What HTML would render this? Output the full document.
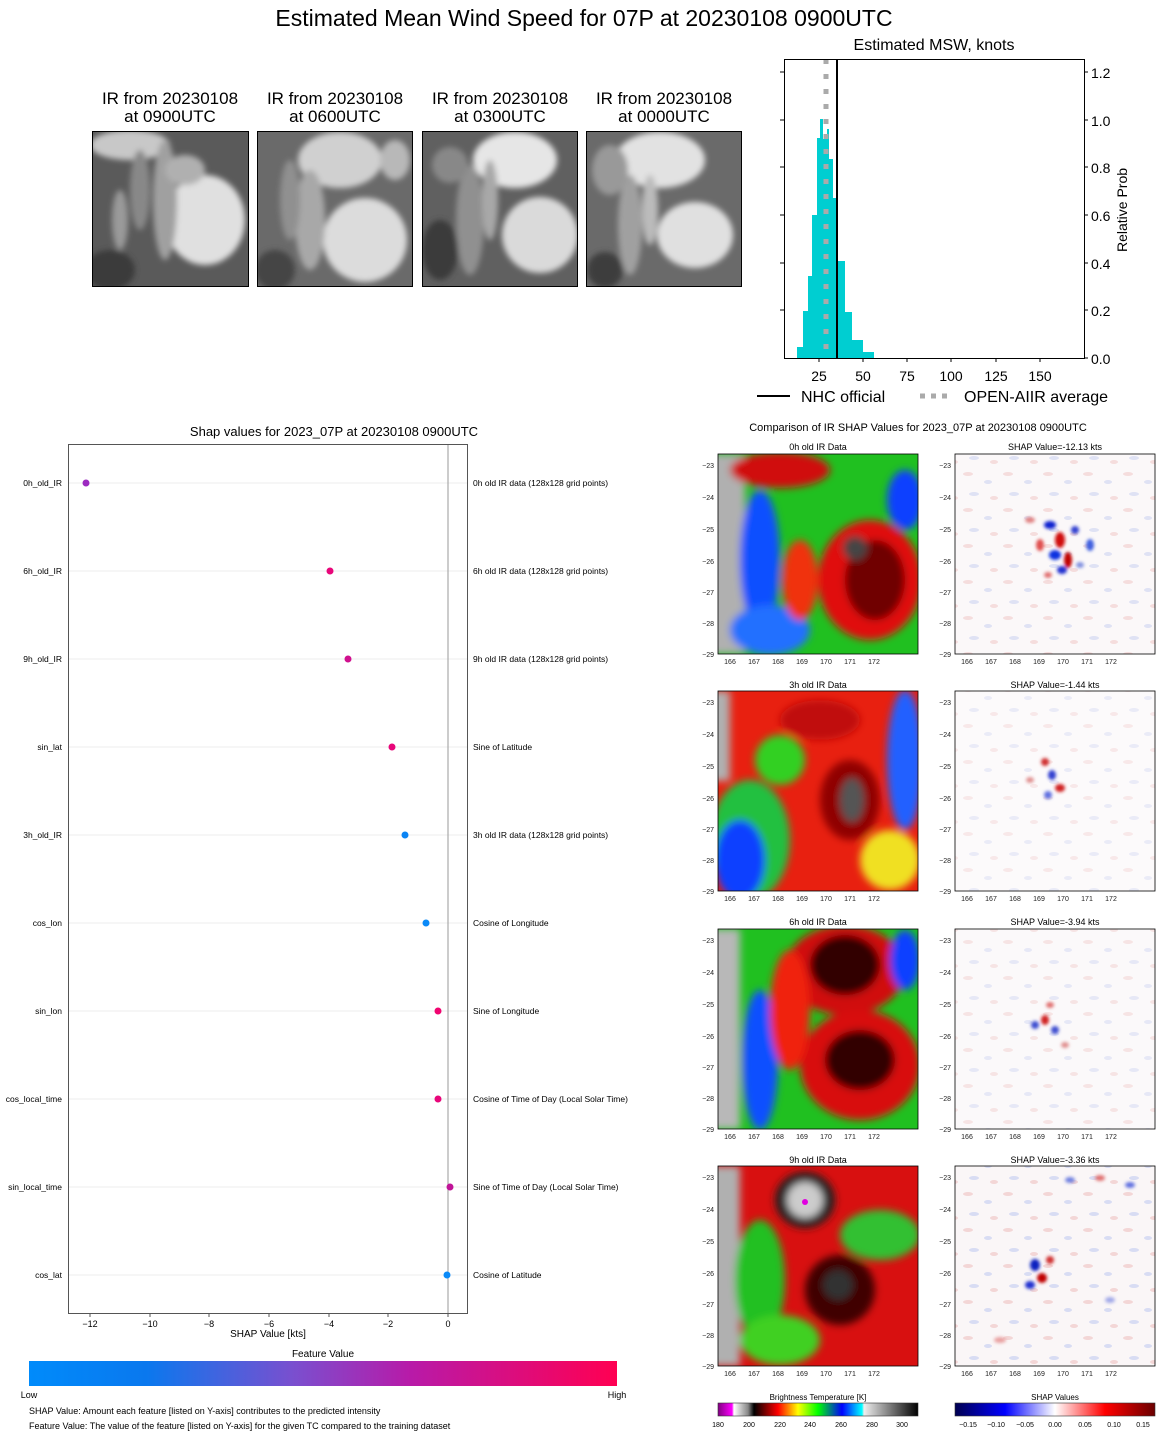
<!DOCTYPE html>
<html><head><meta charset="utf-8"><style>
body{margin:0;background:#fff}
svg{display:block;font-family:"Liberation Sans","DejaVu Sans",sans-serif}
</style></head><body>
<svg width="1168" height="1436" viewBox="0 0 1168 1436" xmlns="http://www.w3.org/2000/svg">
<defs>
<filter id="b8" x="-20%" y="-20%" width="140%" height="140%"><feGaussianBlur stdDeviation="8"/></filter>
<filter id="b4" x="-20%" y="-20%" width="140%" height="140%"><feGaussianBlur stdDeviation="4"/></filter>
<filter id="b3" x="-20%" y="-20%" width="140%" height="140%"><feGaussianBlur stdDeviation="3"/></filter>
<filter id="b2"><feGaussianBlur stdDeviation="1.5"/></filter>
<linearGradient id="fv" x1="0" x2="1"><stop offset="0" stop-color="#008bfb"/><stop offset="0.2" stop-color="#0a78ee"/><stop offset="0.45" stop-color="#7a4fcf"/><stop offset="0.65" stop-color="#b81aa8"/><stop offset="1" stop-color="#ff0052"/></linearGradient>
<linearGradient id="bt" x1="0" x2="1"><stop offset="0" stop-color="#800080"/><stop offset="0.07" stop-color="#ff00ff"/><stop offset="0.08" stop-color="#fff"/><stop offset="0.15" stop-color="#888"/><stop offset="0.18" stop-color="#000"/><stop offset="0.3" stop-color="#f00"/><stop offset="0.4" stop-color="#ff0"/><stop offset="0.5" stop-color="#0f0"/><stop offset="0.62" stop-color="#00f"/><stop offset="0.72" stop-color="#0ff"/><stop offset="0.73" stop-color="#eee"/><stop offset="1" stop-color="#000"/></linearGradient>
<linearGradient id="sv" x1="0" x2="1"><stop offset="0" stop-color="#000050"/><stop offset="0.25" stop-color="#0000ff"/><stop offset="0.5" stop-color="#fff"/><stop offset="0.75" stop-color="#ff0000"/><stop offset="1" stop-color="#6a0000"/></linearGradient>
<clipPath id="c1"><rect x="718" y="454" width="200" height="200"/></clipPath>
<clipPath id="c2"><rect x="718" y="691" width="200" height="200"/></clipPath>
<clipPath id="c3"><rect x="718" y="929" width="200" height="200"/></clipPath>
<clipPath id="c4"><rect x="718" y="1166" width="200" height="200"/></clipPath>
<clipPath id="g1"><rect x="92" y="131" width="157" height="156"/></clipPath>
<clipPath id="g2"><rect x="257" y="131" width="156" height="156"/></clipPath>
<clipPath id="g3"><rect x="422" y="131" width="156" height="156"/></clipPath>
<clipPath id="g4"><rect x="586" y="131" width="156" height="156"/></clipPath>
<pattern id="spk" width="40" height="36" patternUnits="userSpaceOnUse">
<ellipse cx="8" cy="6" rx="5" ry="2" fill="#f3d6d6"/><ellipse cx="28" cy="14" rx="4" ry="2" fill="#d8dcf3"/><ellipse cx="14" cy="26" rx="5" ry="2" fill="#d8dcf3"/><ellipse cx="34" cy="30" rx="4" ry="2" fill="#f3d6d6"/>
</pattern>
</defs>

<text x="584" y="26" font-size="23" text-anchor="middle">Estimated Mean Wind Speed for 07P at 20230108 0900UTC</text>

<g font-size="17" text-anchor="middle">
<text x="170" y="104">IR from 20230108</text><text x="170" y="122">at 0900UTC</text>
<text x="335" y="104">IR from 20230108</text><text x="335" y="122">at 0600UTC</text>
<text x="500" y="104">IR from 20230108</text><text x="500" y="122">at 0300UTC</text>
<text x="664" y="104">IR from 20230108</text><text x="664" y="122">at 0000UTC</text>
</g>
<g clip-path="url(#g1)"><rect x="92" y="131" width="157" height="156" fill="#5a5a5a"/>
<g filter="url(#b3)"><ellipse cx="205" cy="220" rx="40" ry="45" fill="#e0e0e0"/><ellipse cx="130" cy="145" rx="40" ry="15" fill="#c8c8c8"/><ellipse cx="165" cy="200" rx="12" ry="60" fill="#a0a0a0"/><ellipse cx="140" cy="190" rx="10" ry="40" fill="#888"/><ellipse cx="110" cy="270" rx="25" ry="20" fill="#3a3a3a"/><ellipse cx="185" cy="170" rx="20" ry="15" fill="#b0b0b0"/><ellipse cx="120" cy="220" rx="8" ry="30" fill="#9a9a9a"/></g></g>
<g clip-path="url(#g2)"><rect x="257" y="131" width="156" height="156" fill="#6a6a6a"/>
<g filter="url(#b3)"><ellipse cx="365" cy="240" rx="42" ry="42" fill="#dcdcdc"/><ellipse cx="340" cy="160" rx="42" ry="28" fill="#d0d0d0"/><ellipse cx="310" cy="220" rx="15" ry="50" fill="#a8a8a8"/><ellipse cx="290" cy="200" rx="10" ry="40" fill="#909090"/><ellipse cx="275" cy="270" rx="20" ry="20" fill="#444"/><ellipse cx="395" cy="160" rx="15" ry="20" fill="#b8b8b8"/></g></g>
<g clip-path="url(#g3)"><rect x="422" y="131" width="156" height="156" fill="#606060"/>
<g filter="url(#b3)"><ellipse cx="515" cy="160" rx="42" ry="28" fill="#e6e6e6"/><ellipse cx="540" cy="235" rx="38" ry="38" fill="#dadada"/><ellipse cx="470" cy="220" rx="14" ry="55" fill="#909090"/><ellipse cx="490" cy="200" rx="8" ry="40" fill="#a8a8a8"/><ellipse cx="440" cy="250" rx="18" ry="30" fill="#3a3a3a"/><ellipse cx="450" cy="165" rx="18" ry="18" fill="#888"/></g></g>
<g clip-path="url(#g4)"><rect x="586" y="131" width="156" height="156" fill="#6a6a6a"/>
<g filter="url(#b3)"><ellipse cx="660" cy="160" rx="45" ry="28" fill="#e2e2e2"/><ellipse cx="695" cy="235" rx="38" ry="33" fill="#e0e0e0"/><ellipse cx="630" cy="225" rx="12" ry="50" fill="#a0a0a0"/><ellipse cx="650" cy="210" rx="8" ry="35" fill="#bbb"/><ellipse cx="605" cy="270" rx="18" ry="18" fill="#3c3c3c"/><ellipse cx="610" cy="170" rx="18" ry="25" fill="#999"/></g></g>
<g fill="none" stroke="#000" stroke-width="1">
<rect x="92.5" y="131.5" width="156" height="155"/><rect x="257.5" y="131.5" width="155" height="155"/><rect x="422.5" y="131.5" width="155" height="155"/><rect x="586.5" y="131.5" width="155" height="155"/></g>

<!-- Histogram -->
<text x="934" y="50" font-size="16" text-anchor="middle">Estimated MSW, knots</text>
<g fill="#00ced1">
<rect x="797" y="347" width="6" height="11"/><rect x="803" y="311" width="5" height="47"/><rect x="808" y="276" width="4" height="82"/><rect x="812" y="215" width="5" height="143"/><rect x="817" y="138" width="3" height="220"/><rect x="820" y="119" width="3" height="239"/><rect x="823" y="139" width="4" height="219"/><rect x="827" y="129" width="2" height="229"/><rect x="829" y="159" width="4" height="199"/><rect x="833" y="198" width="3" height="160"/><rect x="836" y="261" width="9" height="97"/><rect x="845" y="312" width="7" height="46"/><rect x="852" y="340" width="11" height="18"/><rect x="863" y="352" width="11" height="6"/>
</g>
<line x1="826" y1="59" x2="826" y2="358" stroke="#aaa" stroke-width="5" stroke-dasharray="5,10"/>
<line x1="837" y1="59" x2="837" y2="358" stroke="#000" stroke-width="2"/>
<rect x="784.5" y="59.5" width="300" height="299" fill="none" stroke="#000"/>
<g stroke="#000"><line x1="819" y1="358" x2="819" y2="362"/><line x1="863" y1="358" x2="863" y2="362"/><line x1="907" y1="358" x2="907" y2="362"/><line x1="951" y1="358" x2="951" y2="362"/><line x1="996" y1="358" x2="996" y2="362"/><line x1="1040" y1="358" x2="1040" y2="362"/>
<line x1="1084" y1="358" x2="1088" y2="358"/><line x1="1084" y1="310" x2="1088" y2="310"/><line x1="1084" y1="263" x2="1088" y2="263"/><line x1="1084" y1="215" x2="1088" y2="215"/><line x1="1084" y1="167" x2="1088" y2="167"/><line x1="1084" y1="120" x2="1088" y2="120"/><line x1="1084" y1="72" x2="1088" y2="72"/>
<line x1="780" y1="72" x2="784" y2="72"/><line x1="780" y1="120" x2="784" y2="120"/><line x1="780" y1="167" x2="784" y2="167"/><line x1="780" y1="215" x2="784" y2="215"/><line x1="780" y1="263" x2="784" y2="263"/><line x1="780" y1="310" x2="784" y2="310"/></g>
<g font-size="14" text-anchor="middle"><text x="819" y="381">25</text><text x="863" y="381">50</text><text x="907" y="381">75</text><text x="951" y="381">100</text><text x="996" y="381">125</text><text x="1040" y="381">150</text></g>
<g font-size="14"><text x="1091" y="364">0.0</text><text x="1091" y="316">0.2</text><text x="1091" y="269">0.4</text><text x="1091" y="221">0.6</text><text x="1091" y="173">0.8</text><text x="1091" y="126">1.0</text><text x="1091" y="78">1.2</text></g>
<text transform="translate(1127,210) rotate(-90)" font-size="14" text-anchor="middle">Relative Prob</text>
<line x1="757" y1="396" x2="790" y2="396" stroke="#000" stroke-width="2"/>
<text x="801" y="402" font-size="16">NHC official</text>
<line x1="920" y1="396" x2="953" y2="396" stroke="#aaa" stroke-width="5" stroke-dasharray="5,6"/>
<text x="964" y="402" font-size="16">OPEN-AIIR average</text>

<!-- SHAP dot plot -->
<text x="334" y="436" font-size="13" text-anchor="middle">Shap values for 2023_07P at 20230108 0900UTC</text>
<g stroke="#eee" stroke-width="1">
<line x1="68" y1="483" x2="467" y2="483"/><line x1="68" y1="571" x2="467" y2="571"/><line x1="68" y1="659" x2="467" y2="659"/><line x1="68" y1="747" x2="467" y2="747"/><line x1="68" y1="835" x2="467" y2="835"/><line x1="68" y1="923" x2="467" y2="923"/><line x1="68" y1="1011" x2="467" y2="1011"/><line x1="68" y1="1099" x2="467" y2="1099"/><line x1="68" y1="1187" x2="467" y2="1187"/><line x1="68" y1="1275" x2="467" y2="1275"/></g>
<line x1="448" y1="444" x2="448" y2="1313" stroke="#999"/>
<rect x="68.5" y="444.5" width="399" height="869" fill="none" stroke="#555"/>
<g fill="#000" font-size="8.5">
<g text-anchor="end"><text x="62" y="486">0h_old_IR</text><text x="62" y="574">6h_old_IR</text><text x="62" y="662">9h_old_IR</text><text x="62" y="750">sin_lat</text><text x="62" y="838">3h_old_IR</text><text x="62" y="926">cos_lon</text><text x="62" y="1014">sin_lon</text><text x="62" y="1102">cos_local_time</text><text x="62" y="1190">sin_local_time</text><text x="62" y="1278">cos_lat</text></g>
<text x="473" y="486">0h old IR data (128x128 grid points)</text><text x="473" y="574">6h old IR data (128x128 grid points)</text><text x="473" y="662">9h old IR data (128x128 grid points)</text><text x="473" y="750">Sine of Latitude</text><text x="473" y="838">3h old IR data (128x128 grid points)</text><text x="473" y="926">Cosine of Longitude</text><text x="473" y="1014">Sine of Longitude</text><text x="473" y="1102">Cosine of Time of Day (Local Solar Time)</text><text x="473" y="1190">Sine of Time of Day (Local Solar Time)</text><text x="473" y="1278">Cosine of Latitude</text>
</g>
<g stroke="#555"><line x1="90" y1="1313" x2="90" y2="1317"/><line x1="150" y1="1313" x2="150" y2="1317"/><line x1="209" y1="1313" x2="209" y2="1317"/><line x1="269" y1="1313" x2="269" y2="1317"/><line x1="329" y1="1313" x2="329" y2="1317"/><line x1="388" y1="1313" x2="388" y2="1317"/><line x1="448" y1="1313" x2="448" y2="1317"/></g>
<g font-size="9" text-anchor="middle"><text x="90" y="1327">−12</text><text x="150" y="1327">−10</text><text x="209" y="1327">−8</text><text x="269" y="1327">−6</text><text x="329" y="1327">−4</text><text x="388" y="1327">−2</text><text x="448" y="1327">0</text>
<text x="268" y="1337" font-size="10">SHAP Value [kts]</text></g>
<circle cx="86" cy="483" r="3.5" fill="#9c2ac0"/>
<circle cx="330" cy="571" r="3.5" fill="#e8067a"/>
<circle cx="348" cy="659" r="3.5" fill="#d0108e"/>
<circle cx="392" cy="747" r="3.5" fill="#e8067a"/>
<circle cx="405" cy="835" r="3.5" fill="#0a84f4"/>
<circle cx="426" cy="923" r="3.5" fill="#0a8af8"/>
<circle cx="438" cy="1011" r="3.5" fill="#f00470"/>
<circle cx="438" cy="1099" r="3.5" fill="#e8067a"/>
<circle cx="450" cy="1187" r="3.5" fill="#c01498"/>
<circle cx="447" cy="1275" r="3.5" fill="#0a8af8"/>
<text x="323" y="1357" font-size="10" text-anchor="middle">Feature Value</text>
<rect x="29" y="1361" width="588" height="25" fill="url(#fv)"/>
<text x="29" y="1398" font-size="9" text-anchor="middle">Low</text><text x="617" y="1398" font-size="9" text-anchor="middle">High</text>
<text x="29" y="1414" font-size="9">SHAP Value: Amount each feature [listed on Y-axis] contributes to the predicted intensity</text>
<text x="29" y="1429" font-size="9">Feature Value: The value of the feature [listed on Y-axis] for the given TC compared to the training dataset</text>

<!-- Comparison panels -->
<text x="918" y="431" font-size="11" text-anchor="middle">Comparison of IR SHAP Values for 2023_07P at 20230108 0900UTC</text>
<g font-size="9" text-anchor="middle">
<text x="818" y="450">0h old IR Data</text><text x="1055" y="450">SHAP Value=-12.13 kts</text>
<text x="818" y="688">3h old IR Data</text><text x="1055" y="688">SHAP Value=-1.44 kts</text>
<text x="818" y="925">6h old IR Data</text><text x="1055" y="925">SHAP Value=-3.94 kts</text>
<text x="818" y="1163">9h old IR Data</text><text x="1055" y="1163">SHAP Value=-3.36 kts</text></g>

<g clip-path="url(#c1)"><rect x="718" y="454" width="200" height="200" fill="#20c020"/>
<g filter="url(#b4)">
<rect x="700" y="454" width="45" height="200" fill="#b0b0b0"/>
<ellipse cx="760" cy="560" rx="20" ry="70" fill="#1050ff"/>
<ellipse cx="770" cy="630" rx="40" ry="25" fill="#2070ff"/>
<ellipse cx="800" cy="580" rx="18" ry="40" fill="#f03010"/>
<ellipse cx="780" cy="470" rx="50" ry="18" fill="#d01010"/>
<ellipse cx="870" cy="580" rx="52" ry="60" fill="#e01010"/>
<ellipse cx="875" cy="580" rx="30" ry="40" fill="#700000"/>
<ellipse cx="855" cy="548" rx="12" ry="12" fill="#444"/>
<ellipse cx="905" cy="500" rx="18" ry="30" fill="#1040ff"/>
</g></g>
<g clip-path="url(#c2)"><rect x="718" y="691" width="200" height="200" fill="#e82010"/>
<g filter="url(#b4)">
<rect x="700" y="691" width="30" height="90" fill="#b0b0b0"/>
<ellipse cx="750" cy="840" rx="40" ry="60" fill="#20c040"/>
<ellipse cx="740" cy="860" rx="25" ry="40" fill="#1040ff"/>
<ellipse cx="780" cy="760" rx="25" ry="25" fill="#30d020"/>
<ellipse cx="905" cy="760" rx="18" ry="70" fill="#2060ff"/>
<ellipse cx="890" cy="860" rx="30" ry="30" fill="#f0e020"/>
<ellipse cx="850" cy="800" rx="30" ry="40" fill="#900000"/>
<ellipse cx="852" cy="800" rx="12" ry="22" fill="#555"/>
<ellipse cx="820" cy="720" rx="40" ry="20" fill="#c00808"/>
</g></g>
<g clip-path="url(#c3)"><rect x="718" y="929" width="200" height="200" fill="#20c020"/>
<g filter="url(#b4)">
<rect x="700" y="929" width="40" height="200" fill="#b8b8b8"/>
<ellipse cx="760" cy="1060" rx="18" ry="70" fill="#1050ff"/>
<ellipse cx="845" cy="970" rx="60" ry="45" fill="#d01010"/>
<ellipse cx="845" cy="965" rx="35" ry="30" fill="#300000"/>
<ellipse cx="860" cy="1065" rx="60" ry="55" fill="#d81010"/>
<ellipse cx="860" cy="1060" rx="35" ry="30" fill="#300000"/>
<ellipse cx="790" cy="1010" rx="20" ry="60" fill="#f02010"/>
<ellipse cx="905" cy="960" rx="15" ry="30" fill="#1040ff"/>
</g></g>
<g clip-path="url(#c4)"><rect x="718" y="1166" width="200" height="200" fill="#d81010"/>
<g filter="url(#b4)">
<rect x="700" y="1166" width="40" height="200" fill="#b0b0b0"/>
<ellipse cx="760" cy="1280" rx="25" ry="60" fill="#20c020"/>
<ellipse cx="780" cy="1340" rx="40" ry="25" fill="#40d020"/>
<ellipse cx="880" cy="1235" rx="40" ry="25" fill="#30c030"/>
<ellipse cx="805" cy="1200" rx="30" ry="28" fill="#202020"/>
<ellipse cx="805" cy="1200" rx="18" ry="18" fill="#cccccc"/>
<ellipse cx="840" cy="1290" rx="35" ry="35" fill="#400000"/>
<ellipse cx="838" cy="1285" rx="15" ry="15" fill="#333"/>
</g><circle cx="805" cy="1202" r="3" fill="#e000e0"/></g>

<!-- SHAP panels -->
<g>
<rect x="955" y="454" width="200" height="200" fill="#fbf8f9"/><rect x="955" y="454" width="200" height="200" fill="url(#spk)" opacity="0.8"/>
<g filter="url(#b2)">
<ellipse cx="1050" cy="525" rx="6" ry="4" fill="#1020d0"/><ellipse cx="1060" cy="540" rx="5" ry="8" fill="#d01010"/><ellipse cx="1055" cy="555" rx="6" ry="5" fill="#1030e0"/><ellipse cx="1068" cy="560" rx="4" ry="8" fill="#c00000"/><ellipse cx="1040" cy="545" rx="4" ry="6" fill="#e05050"/><ellipse cx="1075" cy="530" rx="4" ry="4" fill="#3040d0"/><ellipse cx="1090" cy="545" rx="4" ry="6" fill="#4060e0"/><ellipse cx="1062" cy="570" rx="5" ry="4" fill="#2030d0"/><ellipse cx="1030" cy="520" rx="5" ry="3" fill="#e08080"/><ellipse cx="1048" cy="575" rx="4" ry="3" fill="#e07070"/><ellipse cx="1080" cy="565" rx="4" ry="3" fill="#8090e0"/>
</g>
<rect x="955" y="691" width="200" height="200" fill="#fcfafb"/><rect x="955" y="691" width="200" height="200" fill="url(#spk)" opacity="0.5"/>
<g filter="url(#b2)">
<ellipse cx="1045" cy="762" rx="4" ry="4" fill="#d03030"/><ellipse cx="1052" cy="775" rx="4" ry="5" fill="#3040d0"/><ellipse cx="1060" cy="788" rx="5" ry="4" fill="#d02020"/><ellipse cx="1048" cy="795" rx="4" ry="4" fill="#6070e0"/><ellipse cx="1030" cy="780" rx="4" ry="3" fill="#e09090"/>
</g>
<rect x="955" y="929" width="200" height="200" fill="#fbf9fa"/><rect x="955" y="929" width="200" height="200" fill="url(#spk)" opacity="0.6"/>
<g filter="url(#b2)">
<ellipse cx="1045" cy="1020" rx="4" ry="5" fill="#d02020"/><ellipse cx="1035" cy="1025" rx="4" ry="4" fill="#4050d0"/><ellipse cx="1055" cy="1030" rx="4" ry="4" fill="#4050d0"/><ellipse cx="1050" cy="1005" rx="4" ry="3" fill="#e07070"/><ellipse cx="1065" cy="1045" rx="4" ry="3" fill="#e09090"/>
</g>
<rect x="955" y="1166" width="200" height="200" fill="#faf6f7"/><rect x="955" y="1166" width="200" height="200" fill="url(#spk)"/>
<g filter="url(#b2)">
<ellipse cx="1035" cy="1265" rx="5" ry="6" fill="#1020c0"/><ellipse cx="1042" cy="1278" rx="5" ry="5" fill="#c00000"/><ellipse cx="1030" cy="1285" rx="5" ry="4" fill="#2030d0"/><ellipse cx="1050" cy="1260" rx="4" ry="4" fill="#d03030"/><ellipse cx="1070" cy="1180" rx="5" ry="3" fill="#7080e0"/><ellipse cx="1100" cy="1178" rx="5" ry="3" fill="#e07070"/><ellipse cx="1130" cy="1185" rx="5" ry="3" fill="#6070e0"/><ellipse cx="1000" cy="1340" rx="6" ry="3" fill="#e9a0a0"/><ellipse cx="1110" cy="1300" rx="5" ry="3" fill="#a0a8e8"/>
</g>
</g>

<g fill="none" stroke="#000" stroke-width="0.8">
<rect x="718" y="454" width="200" height="200"/><rect x="955" y="454" width="200" height="200"/>
<rect x="718" y="691" width="200" height="200"/><rect x="955" y="691" width="200" height="200"/>
<rect x="718" y="929" width="200" height="200"/><rect x="955" y="929" width="200" height="200"/>
<rect x="718" y="1166" width="200" height="200"/><rect x="955" y="1166" width="200" height="200"/>
</g>
<g font-size="7" fill="#222">
<g text-anchor="end">
<text x="714" y="468">−23</text><text x="714" y="500">−24</text><text x="714" y="532">−25</text><text x="714" y="564">−26</text><text x="714" y="595">−27</text><text x="714" y="626">−28</text><text x="714" y="657">−29</text>
<text x="951" y="468">−23</text><text x="951" y="500">−24</text><text x="951" y="532">−25</text><text x="951" y="564">−26</text><text x="951" y="595">−27</text><text x="951" y="626">−28</text><text x="951" y="657">−29</text>
<text x="714" y="705">−23</text><text x="714" y="737">−24</text><text x="714" y="769">−25</text><text x="714" y="801">−26</text><text x="714" y="832">−27</text><text x="714" y="863">−28</text><text x="714" y="894">−29</text>
<text x="951" y="705">−23</text><text x="951" y="737">−24</text><text x="951" y="769">−25</text><text x="951" y="801">−26</text><text x="951" y="832">−27</text><text x="951" y="863">−28</text><text x="951" y="894">−29</text>
<text x="714" y="943">−23</text><text x="714" y="975">−24</text><text x="714" y="1007">−25</text><text x="714" y="1039">−26</text><text x="714" y="1070">−27</text><text x="714" y="1101">−28</text><text x="714" y="1132">−29</text>
<text x="951" y="943">−23</text><text x="951" y="975">−24</text><text x="951" y="1007">−25</text><text x="951" y="1039">−26</text><text x="951" y="1070">−27</text><text x="951" y="1101">−28</text><text x="951" y="1132">−29</text>
<text x="714" y="1180">−23</text><text x="714" y="1212">−24</text><text x="714" y="1244">−25</text><text x="714" y="1276">−26</text><text x="714" y="1307">−27</text><text x="714" y="1338">−28</text><text x="714" y="1369">−29</text>
<text x="951" y="1180">−23</text><text x="951" y="1212">−24</text><text x="951" y="1244">−25</text><text x="951" y="1276">−26</text><text x="951" y="1307">−27</text><text x="951" y="1338">−28</text><text x="951" y="1369">−29</text>
</g>
<g text-anchor="middle">
<text x="730" y="664">166</text><text x="754" y="664">167</text><text x="778" y="664">168</text><text x="802" y="664">169</text><text x="826" y="664">170</text><text x="850" y="664">171</text><text x="874" y="664">172</text>
<text x="730" y="901">166</text><text x="754" y="901">167</text><text x="778" y="901">168</text><text x="802" y="901">169</text><text x="826" y="901">170</text><text x="850" y="901">171</text><text x="874" y="901">172</text>
<text x="730" y="1139">166</text><text x="754" y="1139">167</text><text x="778" y="1139">168</text><text x="802" y="1139">169</text><text x="826" y="1139">170</text><text x="850" y="1139">171</text><text x="874" y="1139">172</text>
<text x="730" y="1376">166</text><text x="754" y="1376">167</text><text x="778" y="1376">168</text><text x="802" y="1376">169</text><text x="826" y="1376">170</text><text x="850" y="1376">171</text><text x="874" y="1376">172</text>
<text x="967" y="664">166</text><text x="991" y="664">167</text><text x="1015" y="664">168</text><text x="1039" y="664">169</text><text x="1063" y="664">170</text><text x="1087" y="664">171</text><text x="1111" y="664">172</text>
<text x="967" y="901">166</text><text x="991" y="901">167</text><text x="1015" y="901">168</text><text x="1039" y="901">169</text><text x="1063" y="901">170</text><text x="1087" y="901">171</text><text x="1111" y="901">172</text>
<text x="967" y="1139">166</text><text x="991" y="1139">167</text><text x="1015" y="1139">168</text><text x="1039" y="1139">169</text><text x="1063" y="1139">170</text><text x="1087" y="1139">171</text><text x="1111" y="1139">172</text>
<text x="967" y="1376">166</text><text x="991" y="1376">167</text><text x="1015" y="1376">168</text><text x="1039" y="1376">169</text><text x="1063" y="1376">170</text><text x="1087" y="1376">171</text><text x="1111" y="1376">172</text>
</g></g>

<text x="818" y="1400" font-size="8" text-anchor="middle">Brightness Temperature [K]</text>
<rect x="718" y="1403" width="200" height="13" fill="url(#bt)" stroke="#333" stroke-width="0.6"/>
<g font-size="7" text-anchor="middle"><text x="718" y="1427">180</text><text x="749" y="1427">200</text><text x="780" y="1427">220</text><text x="810" y="1427">240</text><text x="841" y="1427">260</text><text x="872" y="1427">280</text><text x="902" y="1427">300</text></g>
<text x="1055" y="1400" font-size="8" text-anchor="middle">SHAP Values</text>
<rect x="955" y="1403" width="200" height="13" fill="url(#sv)" stroke="#333" stroke-width="0.6"/>
<g font-size="7" text-anchor="middle"><text x="968" y="1427">−0.15</text><text x="996" y="1427">−0.10</text><text x="1025" y="1427">−0.05</text><text x="1055" y="1427">0.00</text><text x="1085" y="1427">0.05</text><text x="1114" y="1427">0.10</text><text x="1143" y="1427">0.15</text></g>
</svg>
</body></html>
